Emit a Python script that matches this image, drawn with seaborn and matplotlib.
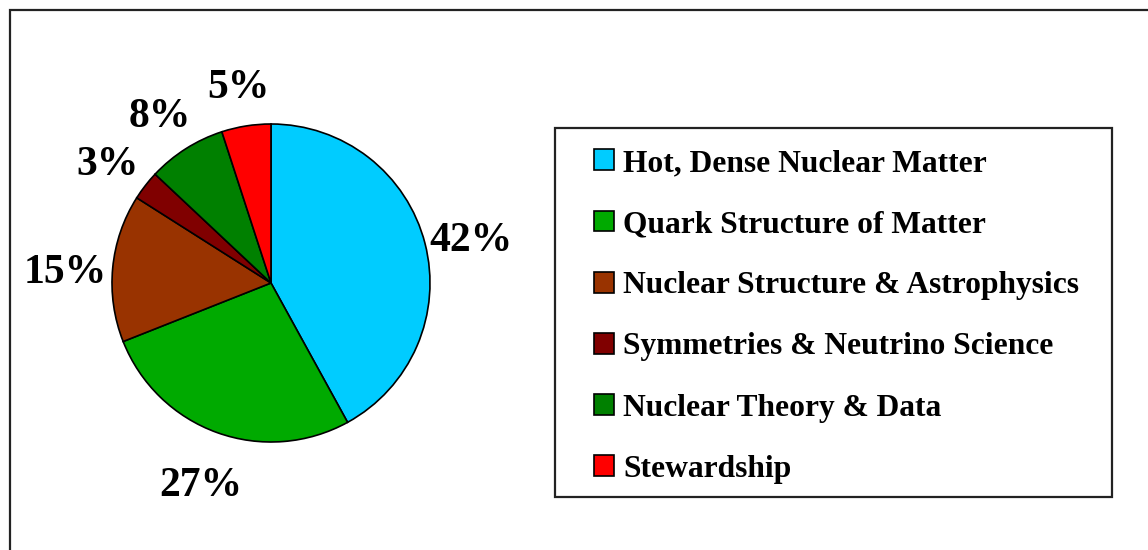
import matplotlib
matplotlib.use("Agg")
import matplotlib.pyplot as plt
import matplotlib.transforms as mtransforms
from matplotlib.patches import Rectangle
import seaborn as sns

categories = ["Hot, Dense Nuclear Matter", "Quark Structure of Matter",
              "Nuclear Structure & Astrophysics", "Symmetries & Neutrino Science",
              "Nuclear Theory & Data", "Stewardship"]
shares = [42, 27, 15, 3, 8, 5]
colors = ["#00CCFF", "#00AA00", "#993300", "#800000", "#008000", "#FF0000"]

sns.set_style("white")
plt.rcParams['font.family'] = ['Liberation Serif', 'DejaVu Serif']
plt.rcParams['font.weight'] = 'bold'
plt.rcParams['text.color'] = 'black'

W, H = 1148, 550
fig = plt.figure(figsize=(W / 100, H / 100), dpi=100)
fig.patch.set_facecolor("white")

# outer frame (extends past right/bottom edges)
fig.patches.append(Rectangle((10 / W, -20 / H), (W + 20) / W, (H - 10 + 20) / H,
                             transform=fig.transFigure, fill=False,
                             edgecolor="#222222", linewidth=1.6))

cx, cy, r = 271, H - 283, 159
ax = fig.add_axes([(cx - r) / W, (cy - r) / H, 2 * r / W, 2 * r / H])
wedges, _, autotexts = ax.pie(
    shares, colors=sns.color_palette(colors), startangle=90, counterclock=False,
    autopct='%1.0f%%', pctdistance=1.3, radius=1,
    wedgeprops=dict(edgecolor="black", linewidth=1.2))
shift = mtransforms.ScaledTranslation(0, -9 / 100, fig.dpi_scale_trans)
for t in autotexts:
    t.set_fontsize(30)
    t.set_fontweight('bold')
    t.set_color('black')
    t.set_transform(t.get_transform() + shift)
ax.set_xlim(-1, 1)
ax.set_ylim(-1, 1)
ax.set_aspect('equal')
ax.axis('off')

# legend box
fig.patches.append(Rectangle((555 / W, (H - 497) / H), (1112 - 555) / W, (497 - 128) / H,
                             transform=fig.transFigure, fill=False,
                             edgecolor="#222222", linewidth=1.6))

fs = 22.7
leg = fig.legend(wedges, categories, loc='upper left',
                 bbox_to_anchor=(594 / W, (H - 149) / H), bbox_transform=fig.transFigure,
                 frameon=False, prop=dict(family='Liberation Serif', weight='bold', size=fs),
                 labelcolor='black',
                 handlelength=0.64, handleheight=0.64, handletextpad=0.28,
                 labelspacing=1.02, borderpad=0, borderaxespad=0)
for h in leg.legend_handles:
    h.set_edgecolor("black")
    h.set_linewidth(1.2)

fig.savefig("out.png", dpi=100, facecolor="white")
